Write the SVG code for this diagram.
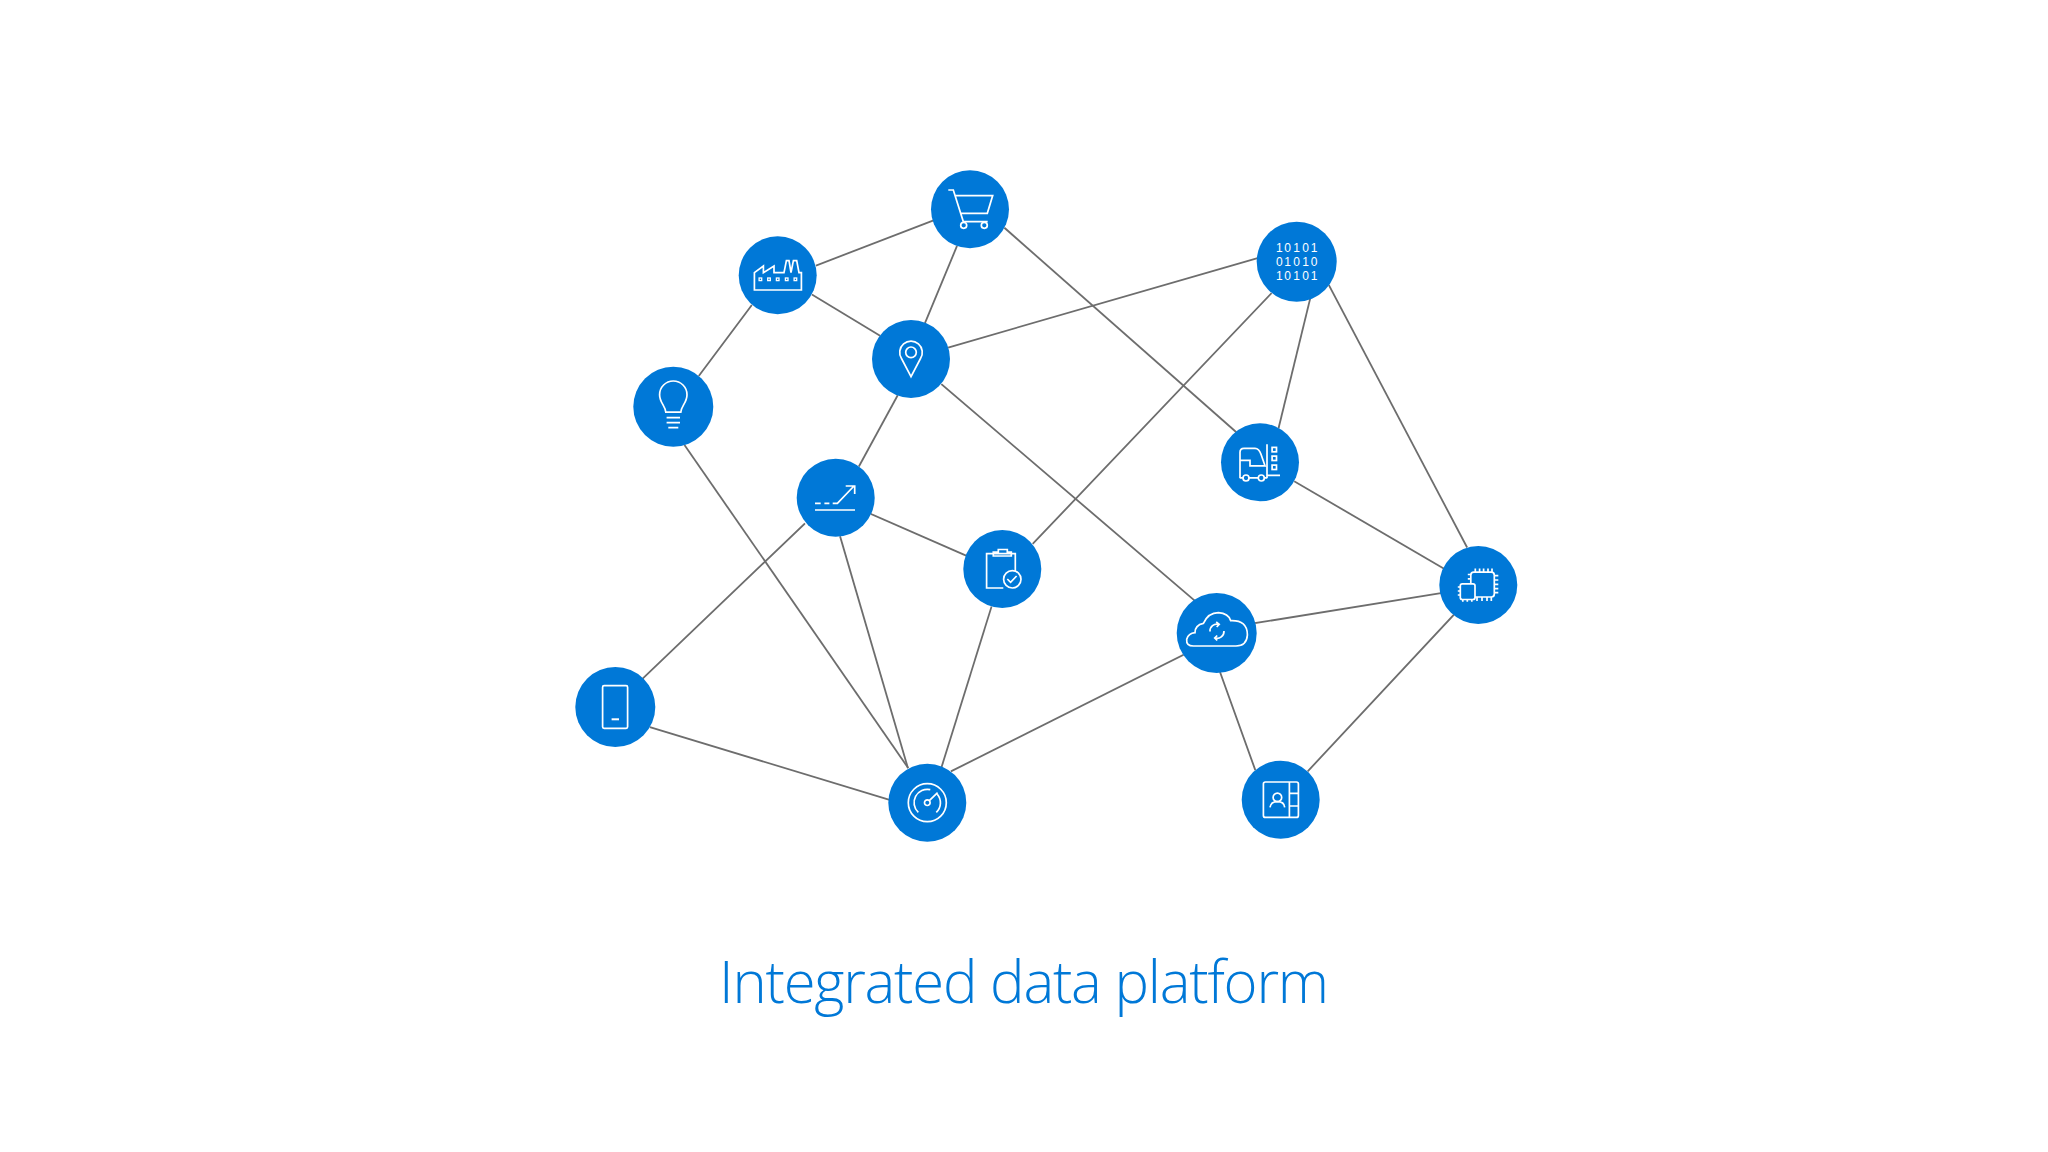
<svg xmlns="http://www.w3.org/2000/svg" width="2048" height="1152" viewBox="0 0 2048 1152">
<style>
.c{fill:#0078d7}
.i{fill:none;stroke:#fff;stroke-width:1.7;stroke-linejoin:miter}
.d{fill:#fff;font-family:"Liberation Sans",Arial,sans-serif;font-size:12px;text-anchor:middle}
#connectors line{stroke:#6d6d6d;stroke-width:1.8;stroke-linecap:square}
.t{fill:#0078d7;font-family:"Open Sans","Noto Sans",sans-serif;font-weight:300;font-size:58px}
</style>
<defs><rect id="s" x="-2.2" y="-2.2" width="4.4" height="4.4" class="i"/></defs>
<rect width="2048" height="1152" fill="#fff"/>
<g id="connectors">
<line x1="816.7" y1="265.3" x2="932.7" y2="220.7"/>
<line x1="956.7" y1="246.7" x2="925.3" y2="322.3"/>
<line x1="812.7" y1="295" x2="879.3" y2="335.3"/>
<line x1="751.3" y1="305.7" x2="699.3" y2="375.3"/>
<line x1="949" y1="347.3" x2="1256.7" y2="258.3"/>
<line x1="1005" y1="228.3" x2="1235.7" y2="431.7"/>
<line x1="897.3" y1="396" x2="859.3" y2="465.7"/>
<line x1="942" y1="384.7" x2="1194" y2="600"/>
<line x1="1271" y1="293.7" x2="1033.3" y2="543.3"/>
<line x1="1310" y1="299.3" x2="1278.7" y2="427.7"/>
<line x1="1329.3" y1="286" x2="1466.7" y2="546.7"/>
<line x1="1295" y1="481.7" x2="1443.3" y2="568.3"/>
<line x1="1256" y1="623" x2="1440" y2="593.3"/>
<line x1="1453.3" y1="615.3" x2="1308.3" y2="770.7"/>
<line x1="1220.3" y1="672.7" x2="1255" y2="769.3"/>
<line x1="1182.7" y1="655.3" x2="951.7" y2="771"/>
<line x1="871.7" y1="514.3" x2="965.3" y2="555.3"/>
<line x1="804.3" y1="524" x2="643.3" y2="678"/>
<line x1="840.3" y1="537" x2="907.7" y2="767.3"/>
<line x1="685" y1="445.7" x2="907.7" y2="767.3"/>
<line x1="991.3" y1="607.3" x2="941.7" y2="766.7"/>
<line x1="650.7" y1="727.3" x2="888.7" y2="799.7"/>
</g>
<g id="cart" transform="translate(970 209.3)"><circle class="c" r="39"/><path class="i" d="M-21.7-19.3H-16.7L-6.7 12.3H17.7M-15.3-13.7H22.7L17.3 4H-10"/><circle class="i" cx="-6.3" cy="16" r="3"/><circle class="i" cx="14.3" cy="16" r="3"/></g>
<g id="factory" transform="translate(777.7 275.3)"><circle class="c" r="39"/><path class="i" d="M-23.3 14.7V-2.7L-14.3-9.3V-2.7L-3.7-9.3V-2.7H6.3L8.7-14.7H11.3L13.3-2.7L15.7-14.7H19L21.3-2.7H23.7V14.7Z"/><g fill="none" stroke="#fff" stroke-width="1.3"><rect x="-18.6" y="2.7" width="2.6" height="2.6"/><rect x="-10" y="2.7" width="2.6" height="2.6"/><rect x="-1.3" y="2.7" width="2.6" height="2.6"/><rect x="7.7" y="2.7" width="2.6" height="2.6"/><rect x="16.4" y="2.7" width="2.6" height="2.6"/></g></g>
<g id="pin" transform="translate(911 359)"><circle class="c" r="39"/><path class="i" d="M0 17.7L-9.5-.5A11.3 11.3 0 1 1 9.5-.5Z"/><circle class="i" cy="-6.7" r="5.3"/></g>
<g id="bulb" transform="translate(673.3 406.7)"><circle class="c" r="40"/><path class="i" d="M-7.5 5.5C-8-1-13.7-4-13.7-12A13.7 13.7 0 0 1 13.7-12C13.7-4 8-1 7.5 5.5ZM-6.7 11H6.7M-6.7 16H6.7M-5 21H5"/></g>
<g id="binary" transform="translate(1296.7 261.7)"><circle class="c" r="40"/><text class="d" x="-17.3 -9 0 9 17.3" y="-10">10101</text><text class="d" x="-17.3 -9 0 9 17.3" y="4.2">01010</text><text class="d" x="-17.3 -9 0 9 17.3" y="18.4">10101</text></g>
<g id="forklift" transform="translate(1260 462.3)"><circle class="c" r="39"/><path class="i" d="M-20 16V-10Q-20-14-16-14H-5Q-1-14 1-8L5 3.5H-10V-2H-20M-20 15.5H-17M-11 15.5H-2M4 15.5H7M7-18V16M7 13H20"/><circle class="i" cx="-14" cy="15.7" r="3"/><circle class="i" cx="1.3" cy="15.7" r="3"/><use href="#s" x="14.3" y="-12.7"/><use href="#s" x="14.3" y="-4"/><use href="#s" x="14.3" y="5"/></g>
<g id="trend" transform="translate(835.7 497.7)"><circle class="c" r="39"/><path class="i" d="M-20.7 12.3H19.3M-20.7 5.7H-15M-11.3 5.7H-6.3M-3 5.7H1.7L18.3-11.7M10-11.7H19V-3.7"/></g>
<g id="clipboard" transform="translate(1002.3 569)"><circle class="c" r="39"/><path class="i" d="M13 2V-15.3H-15.7V19H1M-9-13V-17H-4V-19.5H5V-17H9V-13Z"/><circle class="i" cx="10" cy="10.3" r="8.7"/><path class="i" d="M5 10L8.3 13.3L14.3 7"/></g>
<g id="phone" transform="translate(615.3 707)"><circle class="c" r="40"/><rect class="i" x="-12.7" y="-21.3" width="25" height="42.6" rx="1.5"/><path class="i" style="stroke-width:2" d="M-3.7 12.3H3.7"/></g>
<g id="gauge" transform="translate(927.3 802.7)"><circle class="c" r="39"/><circle class="i" r="19"/><path class="i" d="M-9 9.7A13.3 13.3 0 0 1 3-13M10-8.5A13.3 13.3 0 0 1 9 9.7M2-2L10.3-10"/><circle class="i" r="2.8"/></g>
<g id="cloud" transform="translate(1216.7 633)"><circle class="c" r="40"/><path class="i" d="M-23.3 13Q-30.7 13-30 6.3Q-28.3.3-21.7-.3Q-21.7-8-13.3-9.7Q-8.3-20.3 1.7-20.3Q11.7-19.7 14-12.3Q30.7-13 30.7 2Q30 13 19.3 13Z"/><path class="i" d="M-6.7-1.5A7 7 0 0 1 2-8.7M-.5-11L2.5-8.7L0-6M7.3-2A7 7 0 0 1-1.7 5M.5 2.5L-2 5L.5 7.5"/></g>
<g id="chip" transform="translate(1478.3 585)"><circle class="c" r="39"/><path class="i" d="M-7.5-1.7V-9.8Q-7.5-12.8-4.5-12.8H13Q16-12.8 16-9.8V9Q16 12 13 12H-3.3"/><rect class="i" x="-18" y="-1.2" width="14.7" height="15.7" rx="2"/><path class="i" d="M-3-12.8V-16.5M1.3-12.8V-16.5M5.3-12.8V-16.5M9.7-12.8V-16.5M13.7-12.8V-16.5M16-9.3H20M16-5H20M16-.7H20M16 3.7H20M16 7.7H20M-1.3 12V16M3.7 12V16M8.7 12V16M13 12V16M-7.5-10.5H-10.5M-7.5-6.2H-10.5M-18 2H-20.5M-18 6H-20.5M-18 10H-20.5M-15.5 14.5V16.7M-11 14.5V16.7M-6.5 14.5V16.7"/></g>
<g id="contact" transform="translate(1280.7 799.7)"><circle class="c" r="39"/><rect class="i" x="-17.3" y="-17.7" width="35" height="35.4" rx="2"/><path class="i" d="M8.7-17.7V17.7M8.7-6.3H17.7M8.7 6.3H17.7M-10.7 7.7Q-10 2-3.3 2Q3.5 2 4 7.7"/><circle class="i" cx="-3.3" cy="-2.3" r="4.3"/></g>
<text class="t" x="719" y="1003" textLength="610">Integrated data platform</text>
</svg>
